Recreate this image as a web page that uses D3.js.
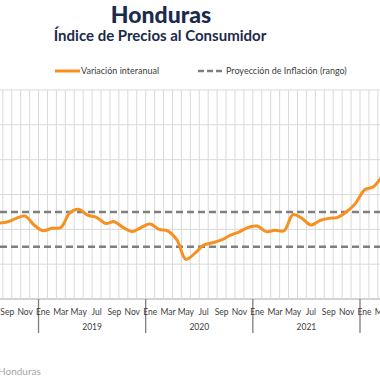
<!DOCTYPE html>
<html><head><meta charset="utf-8">
<script src="https://cdn.jsdelivr.net/npm/d3@7"></script>
<style>body{margin:0;background:#fff}svg{display:block}</style>
</head><body>
<svg id="c" width="380" height="380"></svg>
<script>
const monthNames = ["Ene","Feb","Mar","Abr","May","Jun","Jul","Ago","Sep","Oct","Nov","Dic"];
const months = ["2018-08","2018-09","2018-10","2018-11","2018-12",
"2019-01","2019-02","2019-03","2019-04","2019-05","2019-06","2019-07","2019-08","2019-09","2019-10","2019-11","2019-12",
"2020-01","2020-02","2020-03","2020-04","2020-05","2020-06","2020-07","2020-08","2020-09","2020-10","2020-11","2020-12",
"2021-01","2021-02","2021-03","2021-04","2021-05","2021-06","2021-07","2021-08","2021-09","2021-10","2021-11","2021-12",
"2022-01","2022-02","2022-03"];
const inflation = [4.36,4.42,4.63,4.76,4.25,
3.92,4.06,4.10,4.94,5.15,4.82,4.69,4.34,4.44,4.10,3.87,4.11,
4.30,4.00,3.90,3.39,2.28,2.62,3.10,3.23,3.39,3.67,3.86,4.11,
4.19,3.87,3.95,3.92,4.85,4.63,4.25,4.50,4.63,4.69,5.01,5.49,
6.26,6.45,7.08];
const targetUpper = 5;
const targetLower = 3;
const yTicks = [0,2,4,6,8,10,12];
const years = ["2019","2020","2021"];
const title = "Honduras";
const subtitle = "Índice de Precios al Consumidor";
const legendLabels = ["Variación interanual","Proyección de Inflación (rango)"];
const source = "Honduras";

const svg = d3.select("#c");
const mw = 8.93;
const x = d3.scaleBand().domain(months).range([-6.13, -6.13 + months.length*mw]).padding(0);
const y = d3.scaleLinear().domain([0,12]).range([299,90]);
const cx = m => x(m) + x.bandwidth()/2;

// title
svg.append("text").attr("x",161).attr("y",23).attr("text-anchor","middle")
  .attr("font-family","Lato").attr("font-weight",900).attr("font-size",23).attr("fill","#1c2b4b").text(title);
svg.append("text").attr("x",160).attr("y",41).attr("text-anchor","middle")
  .attr("font-family","Lato").attr("font-weight",700).attr("font-size",15).attr("fill","#1c2b4b").text(subtitle);

// legend
const lg = svg.append("g").attr("font-family","Lato").attr("font-size",9).attr("fill","#404040");
lg.append("line").attr("x1",55).attr("x2",80).attr("y1",71).attr("y2",71).attr("stroke","#f7901e").attr("stroke-width",3);
lg.append("text").attr("x",81).attr("y",74).text(legendLabels[0]);
lg.append("line").attr("x1",198).attr("x2",225).attr("y1",71).attr("y2",71).attr("stroke","#7f7f7f").attr("stroke-width",2.5).attr("stroke-dasharray","6,3");
lg.append("text").attr("x",226).attr("y",74).text(legendLabels[1]);

// grid
const g = svg.append("g");
g.selectAll("line.h").data(yTicks).join("line").attr("class","h")
  .attr("x1",0).attr("x2",380).attr("y1",d=>y(d)).attr("y2",d=>y(d))
  .attr("stroke",d=>d===0?"#a6a6a6":"#d9d9d9").attr("stroke-width",1);
g.selectAll("line.v").data(months).join("line").attr("class","v")
  .attr("x1",d=>x(d)).attr("x2",d=>x(d)).attr("y1",y(12)).attr("y2",y(0))
  .attr("stroke","#d9d9d9").attr("stroke-width",1);

// year dividers
const yearStarts = months.filter(m=>m.endsWith("-01"));
g.selectAll("line.yd").data(yearStarts).join("line").attr("class","yd")
  .attr("x1",d=>x(d)).attr("x2",d=>x(d)).attr("y1",y(0)).attr("y2",333)
  .attr("stroke","#7f7f7f").attr("stroke-width",1.3);

// month labels
svg.append("g").attr("font-family","Lato").attr("font-size",8.5).attr("fill","#404040")
  .selectAll("text").data(months.filter(m=>(+m.slice(5))%2===1)).join("text")
  .attr("x",d=>cx(d)).attr("y",315).attr("text-anchor","middle")
  .text(d=>monthNames[+d.slice(5)-1]);
// year labels
svg.append("g").attr("font-family","Lato").attr("font-size",8.5).attr("fill","#404040")
  .selectAll("text").data(years).join("text")
  .attr("x",d=>(x(d+"-01")+x(d+"-12")+mw)/2).attr("y",330).attr("text-anchor","middle").text(d=>d);

// target range
[targetUpper,targetLower].forEach(v=>{
  svg.append("line").attr("x1",0).attr("x2",380).attr("y1",y(v)).attr("y2",y(v))
    .attr("stroke","#7f7f7f").attr("stroke-width",2.5).attr("stroke-dasharray","7,4");
});

// line
const line = d3.line().x((d,i)=>cx(months[i])).y(d=>y(d)).curve(d3.curveCatmullRom.alpha(0.5));
svg.append("path").datum(inflation).attr("d",line).attr("fill","none")
  .attr("stroke","#f7901e").attr("stroke-width",3).attr("stroke-linejoin","round");

// source
svg.append("text").attr("x",-2).attr("y",375).attr("font-family","Lato").attr("font-size",10).attr("fill","#a6a6a6").text(source);
</script>
</body></html>
